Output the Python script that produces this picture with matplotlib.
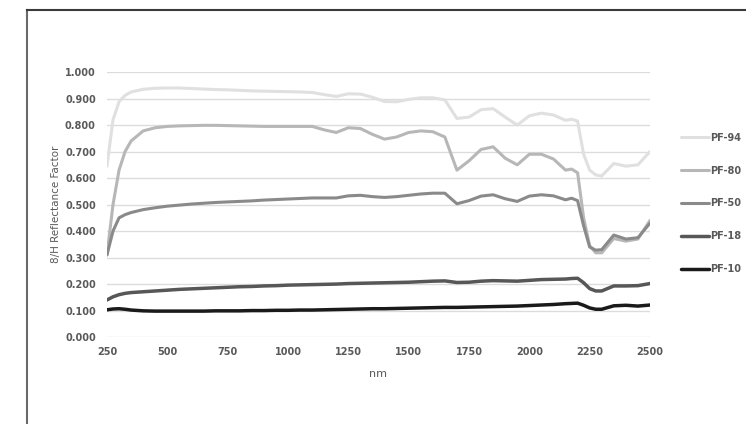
import numpy as np
import matplotlib
matplotlib.use("Agg")
import matplotlib.pyplot as plt
from matplotlib.lines import Line2D

# wavelength grid (nm)
wavelength = [250, 275, 300, 325, 350, 400, 450, 500, 550, 600, 650, 700, 750, 800,
              850, 900, 950, 1000, 1050, 1100, 1150, 1200, 1250, 1300, 1350, 1400,
              1450, 1500, 1550, 1600, 1650, 1700, 1750, 1800, 1850, 1900, 1950, 2000,
              2050, 2100, 2150, 2175, 2200, 2225, 2250, 2275, 2300, 2350, 2400, 2450, 2500]

pf94 = [0.645, 0.820, 0.888, 0.912, 0.925, 0.935, 0.939, 0.940, 0.940, 0.938, 0.936,
        0.934, 0.933, 0.931, 0.929, 0.928, 0.927, 0.926, 0.925, 0.923, 0.915, 0.908,
        0.918, 0.917, 0.905, 0.889, 0.888, 0.897, 0.903, 0.903, 0.895, 0.825, 0.830,
        0.858, 0.862, 0.830, 0.800, 0.835, 0.845, 0.838, 0.818, 0.822, 0.815, 0.690,
        0.630, 0.612, 0.608, 0.655, 0.645, 0.650, 0.700]

pf80 = [0.310, 0.500, 0.630, 0.700, 0.740, 0.778, 0.790, 0.795, 0.797, 0.798, 0.799,
        0.799, 0.798, 0.797, 0.796, 0.795, 0.795, 0.795, 0.795, 0.795, 0.782, 0.772,
        0.790, 0.787, 0.765, 0.747, 0.755, 0.772, 0.778, 0.775, 0.755, 0.630, 0.665,
        0.708, 0.718, 0.675, 0.650, 0.690, 0.690, 0.672, 0.630, 0.634, 0.620, 0.450,
        0.345, 0.318, 0.318, 0.372, 0.362, 0.370, 0.440]

pf50 = [0.310, 0.400, 0.450, 0.462, 0.470, 0.481, 0.488, 0.494, 0.498, 0.502, 0.505,
        0.508, 0.510, 0.512, 0.514, 0.517, 0.519, 0.521, 0.523, 0.525, 0.525, 0.525,
        0.533, 0.535, 0.530, 0.527, 0.530, 0.535, 0.540, 0.543, 0.543, 0.503, 0.515,
        0.532, 0.537, 0.522, 0.512, 0.532, 0.537, 0.533, 0.518, 0.524, 0.515, 0.420,
        0.340, 0.328, 0.330, 0.385, 0.370, 0.375, 0.430]

pf18 = [0.140, 0.152, 0.160, 0.165, 0.168, 0.171, 0.174, 0.177, 0.180, 0.182, 0.184,
        0.186, 0.188, 0.190, 0.191, 0.193, 0.194, 0.196, 0.197, 0.198, 0.199, 0.200,
        0.202, 0.203, 0.204, 0.205, 0.206, 0.207, 0.209, 0.211, 0.212, 0.206, 0.207,
        0.211, 0.213, 0.212, 0.211, 0.214, 0.217, 0.218, 0.219, 0.221, 0.222, 0.205,
        0.183, 0.174, 0.174, 0.193, 0.193, 0.194, 0.202]

pf10 = [0.103, 0.106, 0.107, 0.105, 0.102, 0.099, 0.098, 0.098, 0.098, 0.098, 0.098,
        0.099, 0.099, 0.099, 0.100, 0.100, 0.101, 0.101, 0.102, 0.102, 0.103, 0.104,
        0.105, 0.106, 0.107, 0.107, 0.108, 0.109, 0.110, 0.111, 0.112, 0.112, 0.113,
        0.114, 0.115, 0.116, 0.117, 0.119, 0.121, 0.123, 0.126, 0.127, 0.128, 0.120,
        0.110, 0.105, 0.105, 0.118, 0.120, 0.117, 0.121]

series = [("PF-94", pf94, "#e0e0e0", 2.2),
          ("PF-80", pf80, "#b7b7b7", 2.2),
          ("PF-50", pf50, "#8a8a8a", 2.2),
          ("PF-18", pf18, "#575757", 2.5),
          ("PF-10", pf10, "#1a1a1a", 2.5)]

xticks = [250, 500, 750, 1000, 1250, 1500, 1750, 2000, 2250, 2500]
yticks = [0.0, 0.1, 0.2, 0.3, 0.4, 0.5, 0.6, 0.7, 0.8, 0.9, 1.0]

text_col = "#595959"

fig = plt.figure(figsize=(7.46, 4.24), dpi=100)
ax = fig.add_axes([0.1434, 0.205, 0.7279, 0.625])

for name, vals, col, lw in series:
    ax.plot(wavelength, vals, color=col, lw=lw, label=name,
            solid_capstyle="round", solid_joinstyle="round", zorder=3)

ax.set_xlim(250, 2500)
ax.set_ylim(0, 1.0)
ax.set_xticks(xticks)
ax.set_yticks(yticks)
ax.set_yticklabels(["%.3f" % v for v in yticks])
ax.yaxis.grid(True, color="#dcdcdc", lw=1.0, zorder=0)
ax.set_axisbelow(True)
for s in ax.spines.values():
    s.set_visible(False)
ax.tick_params(axis="both", length=0, labelsize=7, labelcolor=text_col, pad=8)
for lab in ax.get_xticklabels() + ax.get_yticklabels():
    lab.set_fontweight("bold")
ax.tick_params(axis="x", pad=7)

ax.set_ylabel("8/H Reflectance Factor", fontsize=7.5, color=text_col, labelpad=3)
ax.set_xlabel("nm", fontsize=8, color=text_col, labelpad=9)

leg = ax.legend(loc="upper left", bbox_to_anchor=(0.913, 0.687),
                bbox_transform=fig.transFigure, frameon=False, fontsize=7,
                handlelength=2.9, handletextpad=0.05, labelspacing=2.35,
                borderpad=0, borderaxespad=0)
for t in leg.get_texts():
    t.set_color(text_col)
    t.set_fontweight("bold")

# outer frame (left and top edge only)
fig.add_artist(Line2D([27.5 / 746, 27.5 / 746], [0, 1 - 9.5 / 424],
                      transform=fig.transFigure, color="#6a6a6a", lw=1.5))
fig.add_artist(Line2D([27 / 746, 1], [1 - 9.5 / 424, 1 - 9.5 / 424],
                      transform=fig.transFigure, color="#3a3a3a", lw=1.5))

fig.savefig("out.png", dpi=100)
